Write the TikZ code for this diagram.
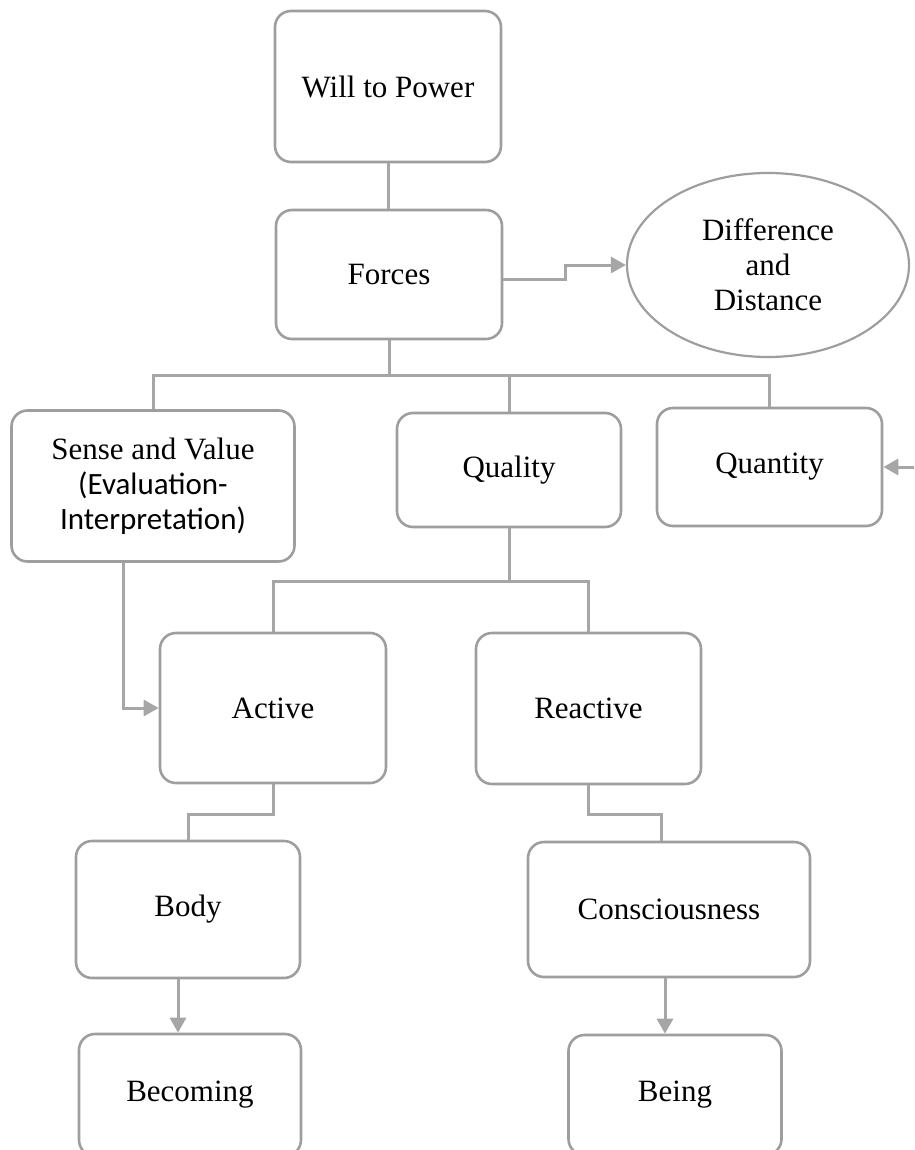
\documentclass[tikz,border=0pt]{standalone}
\usepackage{fontspec}
\setmainfont{Liberation Serif}
\newfontfamily\calibfont{Carlito}
\usepackage{tikz}
\usetikzlibrary{arrows.meta,shapes.geometric}
\definecolor{boxgray}{RGB}{158,158,158}
\definecolor{linkgray}{RGB}{166,166,166}

\begin{document}
\begin{tikzpicture}[
  x=1pt,y=-1pt,
  font=\fontsize{31}{35}\selectfont,
  box/.style={draw=boxgray,line width=2.6pt,rounded corners=16pt,align=center,inner sep=4pt},
  oval/.style={draw=boxgray,line width=2.2pt,ellipse,align=center,inner sep=2pt},
  link/.style={draw=linkgray,line width=3pt},
  arr/.style={link,-{Triangle[length=15pt,width=16pt]}}
]
\useasboundingbox (0,0) rectangle (914,1150);
\clip (0,0) rectangle (914,1150);
\node[box,minimum width=226pt,minimum height=151pt] (wtp) at (388,86.5) {Will to Power};
\node[box,minimum width=226pt,minimum height=129pt] (forces) at (389,274.5) {Forces};
\node[oval,minimum width=282pt,minimum height=184pt] (diff) at (768,265) {Difference\\and\\Distance};
\node[box,minimum width=283pt,minimum height=151pt] (sense) at (153,486) {Sense and Value\\\calibfont(Evaluation-\\\calibfont Interpretation)};
\node[box,minimum width=224pt,minimum height=114pt] (quality) at (509,470) {Quality};
\node[box,minimum width=225pt,minimum height=118pt] (quantity) at (769.5,467) {Quantity};
\node[box,minimum width=226pt,minimum height=150pt] (active) at (273,708) {Active};
\node[box,minimum width=225pt,minimum height=151pt] (reactive) at (588.5,708.5) {Reactive};
\node[box,minimum width=224pt,minimum height=137pt] (body) at (188,909.5) {Body};
\node[box,minimum width=282pt,minimum height=135pt] (cons) at (669,909.5) {Consciousness};
\node[box,minimum width=222pt,minimum height=122pt] (becoming) at (190,1095) {Becoming};
\node[box,minimum width=213pt,minimum height=120pt] (being) at (675,1095) {Being};
\coordinate (qin) at (918,467);
\draw[link] (wtp.south) -- (wtp.south |- forces.north);
\draw[arr] ([yshift=-5pt]forces.east) -- ++(62,0) |- (diff.west);
\draw[link] (forces.south) -- ++(0,35) coordinate (fb) -| (sense.north);
\draw[link] (fb) -| (quality.north);
\draw[link] (fb) -| (quantity.north);
\draw[arr] (qin) -- (quantity.east);
\draw[link] (quality.south) -- ++(0,53) coordinate (qb) -| (active.north);
\draw[link] (qb) -| (reactive.north);
\draw[arr] ([xshift=-30pt]sense.south) |- (active.west);
\draw[link] (active.south) -- ++(0,30) -| (body.north);
\draw[link] (reactive.south) -- ++(0,29) -| ([xshift=-8pt]cons.north);
\draw[arr] ([xshift=-10pt]body.south) -- ([xshift=-10pt]body.south |- becoming.north);
\draw[arr] ([xshift=-4pt]cons.south) -- ([xshift=-4pt]cons.south |- being.north);
\end{tikzpicture}
\end{document}
